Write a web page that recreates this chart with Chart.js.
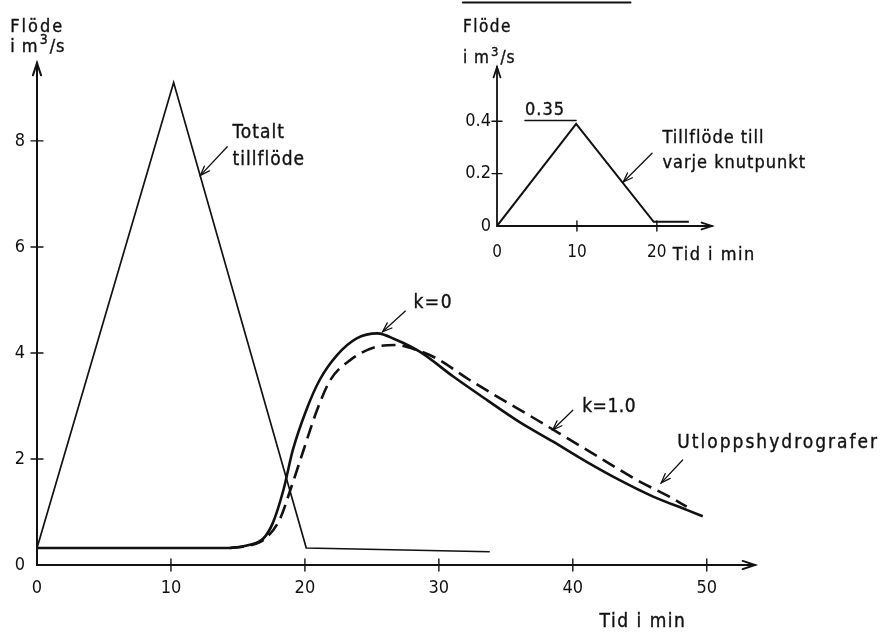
<!DOCTYPE html>
<html>
<head>
<meta charset="utf-8">
<script src="https://cdn.jsdelivr.net/npm/chart.js@4.4.1/dist/chart.umd.min.js"></script>
<style>
  html, body { margin: 0; padding: 0; background: #fff; }
  #wrap { position: relative; width: 885px; height: 632px; }
  #main { position: absolute; left: 0; top: 0; width: 885px; height: 632px; }
  #inset { position: absolute; left: 430px; top: 0; width: 455px; height: 280px; }
</style>
</head>
<body>
<div id="wrap">
  <canvas id="main" width="885" height="632"></canvas>
  <canvas id="inset" width="455" height="280"></canvas>
</div>
<script>
// main diagram: total inflow + outlet hydrographs
const totalTime = [0, 10.2, 20.1, 33.8];
const totalFlow = [0.32, 9.1, 0.32, 0.25];

const k0Time = [0, 14.4, 15.9, 16.9, 17.6, 18.4, 19.1, 20.1, 21.1, 22.4, 23.9, 25.4, 26.8, 28.6, 31.1, 33.6, 36.0, 38.5, 41.0, 43.5, 46.0, 48.5, 49.7];
const k0Flow = [0.32, 0.32, 0.38, 0.5, 0.79, 1.42, 2.17, 2.92, 3.49, 3.96, 4.28, 4.37, 4.25, 4.02, 3.55, 3.11, 2.7, 2.33, 1.95, 1.6, 1.29, 1.04, 0.92];

const k1Time = [14.4, 15.9, 16.9, 18.1, 19.0, 19.9, 20.9, 21.9, 23.4, 25.4, 26.8, 28.3, 29.8, 32.3, 34.8, 37.3, 39.8, 42.3, 44.8, 47.2, 48.5];
const k1Flow = [0.32, 0.37, 0.47, 0.85, 1.48, 2.17, 2.92, 3.49, 3.87, 4.12, 4.15, 4.06, 3.9, 3.49, 3.11, 2.74, 2.36, 1.98, 1.6, 1.29, 1.1];

const xTicks = [0, 10, 20, 30, 40, 50];
const yTicks = [0, 2, 4, 6, 8];

// inset: inflow to each node
const insetTime = [0, 9.9, 19.6, 24.0];
const insetFlow = [0, 0.39, 0.016, 0.016];
const insetXTicks = [0, 10, 20];
const insetYTicks = [0, 0.2, 0.4];

const FONT = '"DejaVu Sans Condensed", "Liberation Sans Narrow", "DejaVu Sans", sans-serif';
const INK = "#111";

const toPoints = (xs, ys) => xs.map((x, i) => ({ x: x, y: ys[i] }));

const arrowHead = (ctx, fx, fy, tx, ty, len, spread) => {
  const a = Math.atan2(ty - fy, tx - fx);
  ctx.beginPath();
  ctx.moveTo(tx - len * Math.cos(a - spread), ty - len * Math.sin(a - spread));
  ctx.lineTo(tx, ty);
  ctx.lineTo(tx - len * Math.cos(a + spread), ty - len * Math.sin(a + spread));
  ctx.stroke();
};

// text with a thin outline so it looks as heavy as the scanned lettering
const inkText = (ctx, s, x, y) => {
  ctx.fillText(s, x, y);
  ctx.strokeText(s, x, y);
};

const drawUnit = (ctx, x, y, size) => {
  ctx.font = size + "px " + FONT;
  inkText(ctx, "i m", x, y);
  let w = ctx.measureText("i m").width;
  ctx.font = Math.round(size * 0.78) + "px " + FONT;
  inkText(ctx, "3", x + w + 1, y - size * 0.45);
  w += ctx.measureText("3").width + 2;
  ctx.font = size + "px " + FONT;
  inkText(ctx, "/s", x + w, y);
};

// axes with arrows, crossing tick marks, labels and pointers
const sketchPlugin = (cfg) => ({
  id: "sketch",
  afterDraw(chart) {
    const ctx = chart.ctx;
    const xs = chart.scales.x, ys = chart.scales.y;
    const X = (t) => xs.getPixelForValue(t);
    const Y = (v) => ys.getPixelForValue(v);
    const a = chart.chartArea;
    ctx.save();
    ctx.strokeStyle = INK;
    ctx.fillStyle = INK;
    ctx.lineCap = "round";
    ctx.lineWidth = cfg.axisWidth;
    ctx.beginPath();
    ctx.moveTo(a.left, a.top);
    ctx.lineTo(a.left, a.bottom);
    ctx.lineTo(a.right, a.bottom);
    ctx.stroke();
    arrowHead(ctx, a.left, a.bottom, a.left, a.top, cfg.headLen, 0.32);
    arrowHead(ctx, a.left, a.bottom, a.right, a.bottom, cfg.headLen, 0.32);

    ctx.lineWidth = 1.4;
    xs.ticks.forEach((tk) => {
      if (tk.value === 0) return;
      const px = X(tk.value);
      ctx.beginPath();
      ctx.moveTo(px, a.bottom - cfg.tickLen);
      ctx.lineTo(px, a.bottom + cfg.tickLen);
      ctx.stroke();
    });
    ys.ticks.forEach((tk) => {
      if (tk.value === 0) return;
      const py = Y(tk.value);
      ctx.beginPath();
      ctx.moveTo(a.left - cfg.tickLen, py);
      ctx.lineTo(a.left + cfg.tickLen, py);
      ctx.stroke();
    });

    ctx.textAlign = "left";
    ctx.textBaseline = "alphabetic";
    ctx.lineWidth = 0.35;
    cfg.notes.forEach((n) => {
      ctx.font = (n.size || cfg.noteSize) + "px " + FONT;
      ctx.letterSpacing = (n.spacing === undefined ? 1 : n.spacing) + "px";
      inkText(ctx, n.text, X(n.t), Y(n.v));
    });
    ctx.letterSpacing = cfg.titleSpacing + "px";
    ctx.font = cfg.titleSize + "px " + FONT;
    inkText(ctx, "Flöde", X(cfg.title[0]), Y(cfg.title[1]));
    ctx.letterSpacing = "1px";
    drawUnit(ctx, X(cfg.title[0]), Y(cfg.title[2]), cfg.titleSize);
    ctx.letterSpacing = "0px";

    ctx.lineWidth = 1.3;
    cfg.pointers.forEach((p) => {
      ctx.beginPath();
      ctx.moveTo(X(p[0]), Y(p[1]));
      ctx.lineTo(X(p[2]), Y(p[3]));
      ctx.stroke();
      arrowHead(ctx, X(p[0]), Y(p[1]), X(p[2]), Y(p[3]), 10, 0.35);
    });
    (cfg.rules || []).forEach((r) => {
      ctx.lineWidth = r[3];
      ctx.beginPath();
      ctx.moveTo(X(r[0]), Y(r[2]));
      ctx.lineTo(X(r[1]), Y(r[2]));
      ctx.stroke();
    });
    ctx.restore();
  },
});

const tickFont = (size) => ({ family: FONT, size: size });

new Chart(document.getElementById("main"), {
  type: "line",
  data: {
    datasets: [
      {
        label: "Totalt tillflöde",
        data: toPoints(totalTime, totalFlow),
        borderColor: INK,
        borderWidth: 1.7,
        tension: 0,
      },
      {
        label: "k=0",
        data: toPoints(k0Time, k0Flow),
        borderColor: INK,
        borderWidth: 2.6,
        cubicInterpolationMode: "monotone",
      },
      {
        label: "k=1.0",
        data: toPoints(k1Time, k1Flow),
        borderColor: INK,
        borderWidth: 2.6,
        borderDash: [14, 7],
        cubicInterpolationMode: "monotone",
      },
    ],
  },
  options: {
    responsive: false,
    animation: false,
    events: [],
    elements: { point: { radius: 0 } },
    layout: { padding: { top: 63, right: 130, left: 0, bottom: 0 } },
    plugins: { legend: { display: false }, tooltip: { enabled: false } },
    scales: {
      x: {
        type: "linear",
        min: 0,
        max: 53.6,
        afterBuildTicks: (s) => { s.ticks = xTicks.map((v) => ({ value: v })); },
        afterFit: (s) => { s.height = 67; },
        grid: { display: false, drawTicks: false },
        border: { display: false },
        ticks: { font: tickFont(18), color: INK, padding: 13, maxRotation: 0 },
      },
      y: {
        type: "linear",
        min: 0,
        max: 9.47,
        afterBuildTicks: (s) => { s.ticks = yTicks.map((v) => ({ value: v })); },
        afterFit: (s) => { s.width = 37; },
        grid: { display: false, drawTicks: false },
        border: { display: false },
        ticks: { font: tickFont(18), color: INK, padding: 12 },
      },
    },
  },
  plugins: [
    sketchPlugin({
      axisWidth: 2,
      headLen: 13,
      tickLen: 6,
      noteSize: 19,
      titleSize: 18,
      titleSpacing: 2,
      title: [-2.0, 10.06, 9.68],
      notes: [
        { text: "Totalt", t: 14.6, v: 8.06 },
        { text: "tillflöde", t: 14.6, v: 7.55 },
        { text: "k=0", t: 28.1, v: 4.85, spacing: 1.5 },
        { text: "k=1.0", t: 40.7, v: 2.89, spacing: 0.5 },
        { text: "Utloppshydrografer", t: 47.8, v: 2.21, spacing: 2 },
        { text: "Tid i min", t: 42.0, v: -1.17, spacing: 1.5 },
      ],
      pointers: [
        [14.2, 7.89, 12.2, 7.35],
        [27.5, 4.79, 25.8, 4.4],
        [40.0, 2.92, 38.5, 2.55],
        [48.2, 1.98, 46.6, 1.55],
      ],
    }),
  ],
});

new Chart(document.getElementById("inset"), {
  type: "line",
  data: {
    datasets: [
      {
        label: "Tillflöde till varje knutpunkt",
        data: toPoints(insetTime, insetFlow),
        borderColor: INK,
        borderWidth: 2,
        tension: 0,
      },
    ],
  },
  options: {
    responsive: false,
    animation: false,
    events: [],
    elements: { point: { radius: 0 } },
    layout: { padding: { top: 67, right: 173, left: 0, bottom: 0 } },
    plugins: { legend: { display: false }, tooltip: { enabled: false } },
    scales: {
      x: {
        type: "linear",
        min: 0,
        max: 26.9,
        afterBuildTicks: (s) => { s.ticks = insetXTicks.map((v) => ({ value: v })); },
        afterFit: (s) => { s.height = 54; },
        grid: { display: false, drawTicks: false },
        border: { display: false },
        ticks: { font: tickFont(17), color: INK, padding: 16, maxRotation: 0 },
      },
      y: {
        type: "linear",
        min: 0,
        max: 0.607,
        afterBuildTicks: (s) => { s.ticks = insetYTicks.map((v) => ({ value: v })); },
        afterFit: (s) => { s.width = 67; },
        grid: { display: false, drawTicks: false },
        border: { display: false },
        ticks: { font: tickFont(18), color: INK, padding: 6, callback: (v) => String(v) },
      },
    },
  },
  plugins: [
    sketchPlugin({
      axisWidth: 1.8,
      headLen: 11,
      tickLen: 5,
      noteSize: 18,
      titleSize: 17,
      titleSpacing: 1.5,
      title: [-4.26, 0.739, 0.621],
      notes: [
        { text: "0.35", t: 3.51, v: 0.423, spacing: 1 },
        { text: "Tillflöde till", t: 20.7, v: 0.316 },
        { text: "varje knutpunkt", t: 20.7, v: 0.221 },
        { text: "Tid i min", t: 22.0, v: -0.13, spacing: 1.5 },
      ],
      pointers: [[19.4, 0.278, 15.8, 0.168]],
      rules: [
        [3.5, 9.9, 0.403, 1.4],
        [-4.26, 16.7, 0.853, 2],
      ],
    }),
  ],
});
</script>
</body>
</html>
